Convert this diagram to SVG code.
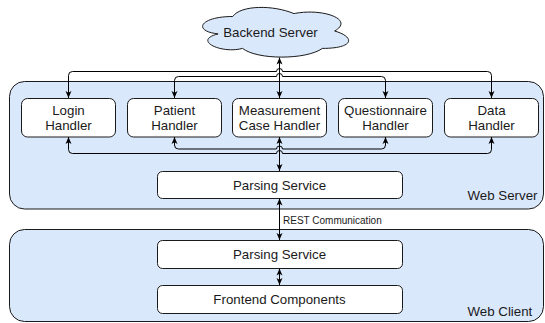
<svg xmlns="http://www.w3.org/2000/svg" width="545" height="323" viewBox="0 0 545 323">
  <style>
    .container { fill: #dae8fc; stroke: #1a1a1a; stroke-width: 1; }
    .box { fill: #ffffff; stroke: #1a1a1a; stroke-width: 1; }
    .cloud { fill: #dae8fc; stroke: #1a1a1a; stroke-width: 1; }
    .label { font-family: "Liberation Sans", Arial, sans-serif; font-size: 13.3px; fill: #1a1a1a; }
    .center { text-anchor: middle; }
    .small { font-family: "Liberation Sans", Arial, sans-serif; font-size: 10px; fill: #1a1a1a; }
    .edge { fill: none; stroke: #000000; stroke-width: 1; }
  </style>
  <defs>
    <marker id="arrow" viewBox="0 0 8 8" refX="8" refY="4" markerWidth="7" markerHeight="7" markerUnits="userSpaceOnUse" orient="auto-start-reverse">
      <path d="M0,0.6 L8,4 L0,7.4 L2,4 Z" fill="#000000"/>
    </marker>
  </defs>

  <!-- tier containers -->
  <g id="web-server">
    <rect class="container" x="9.5" y="81.5" width="534" height="127.5" rx="15" ry="15"/>
    <text class="label" x="467.5" y="200">Web Server</text>
  </g>
  <g id="web-client">
    <rect class="container" x="9.5" y="229.5" width="534" height="92" rx="15" ry="15"/>
    <text class="label" x="467.5" y="315.5">Web Client</text>
  </g>

  <!-- backend -->
  <g id="backend-server">
    <path class="cloud" d="M232.75,16.5 C200.15,16.5 192,31 218.08,33.9 C192,40.28 221.34,54.2 242.53,48.4 C257.2,60 306.1,60 322.4,48.4 C355,48.4 355,36.8 334.63,31 C355,19.4 322.4,7.8 293.88,13.6 C273.5,4.9 240.9,4.9 232.75,16.5 Z"/>
    <text class="label center" x="270.5" y="37">Backend Server</text>
  </g>

  <!-- server handlers -->
  <g id="login-handler">
    <rect class="box" x="21.5" y="98.5" width="94" height="38.5" rx="6" ry="6"/>
    <text class="label center" x="68.5" y="114.5">Login</text>
    <text class="label center" x="68.5" y="130">Handler</text>
  </g>
  <g id="patient-handler">
    <rect class="box" x="127.5" y="98.5" width="94" height="38.5" rx="6" ry="6"/>
    <text class="label center" x="174.5" y="114.5">Patient</text>
    <text class="label center" x="174.5" y="130">Handler</text>
  </g>
  <g id="measurement-case-handler">
    <rect class="box" x="232.5" y="98.5" width="94" height="38.5" rx="6" ry="6"/>
    <text class="label center" x="279.5" y="114.5">Measurement</text>
    <text class="label center" x="279.5" y="130">Case Handler</text>
  </g>
  <g id="questionnaire-handler">
    <rect class="box" x="338.5" y="98.5" width="94" height="38.5" rx="6" ry="6"/>
    <text class="label center" x="385.5" y="114.5">Questionnaire</text>
    <text class="label center" x="385.5" y="130">Handler</text>
  </g>
  <g id="data-handler">
    <rect class="box" x="444.5" y="98.5" width="94" height="38.5" rx="6" ry="6"/>
    <text class="label center" x="491.5" y="114.5">Data</text>
    <text class="label center" x="491.5" y="130">Handler</text>
  </g>

  <g id="server-parsing-service">
    <rect class="box" x="157.5" y="171.5" width="245" height="27" rx="5" ry="5"/>
    <text class="label center" x="279.5" y="189.5">Parsing Service</text>
  </g>

  <!-- client side -->
  <g id="client-parsing-service">
    <rect class="box" x="157.5" y="240.5" width="245" height="28" rx="5" ry="5"/>
    <text class="label center" x="279.5" y="259">Parsing Service</text>
  </g>
  <g id="frontend-components">
    <rect class="box" x="157.5" y="285.5" width="245" height="28" rx="5" ry="5"/>
    <text class="label center" x="279.5" y="304">Frontend Components</text>
  </g>

  <!-- connectors -->
  <g id="connectors">
    <!-- handlers to backend -->
    <path class="edge" marker-start="url(#arrow)" marker-end="url(#arrow)" d="M279.5,98 V57.5"/>
    <path class="edge" marker-start="url(#arrow)" d="M68.5,98 V75.5 Q68.5,71.5 72.5,71.5 H276.5 A3,3 0 0 1 282.5,71.5"/>
    <path class="edge" marker-start="url(#arrow)" d="M491.5,98 V75.5 Q491.5,71.5 487.5,71.5 H282.5"/>
    <path class="edge" marker-start="url(#arrow)" d="M174.5,98 V80.5 Q174.5,76.5 178.5,76.5 H276.5 A3,3 0 0 1 282.5,76.5"/>
    <path class="edge" marker-start="url(#arrow)" d="M385.5,98 V80.5 Q385.5,76.5 381.5,76.5 H282.5"/>

    <!-- handlers to parsing service -->
    <path class="edge" marker-start="url(#arrow)" marker-end="url(#arrow)" d="M279.5,137 V171"/>
    <path class="edge" marker-start="url(#arrow)" d="M68.5,137 V149.5 Q68.5,153.5 72.5,153.5 H276.5 A3,3 0 0 1 282.5,153.5"/>
    <path class="edge" marker-start="url(#arrow)" d="M491.5,137 V149.5 Q491.5,153.5 487.5,153.5 H282.5"/>
    <path class="edge" marker-start="url(#arrow)" d="M174.5,137 V145 Q174.5,149 178.5,149 H276.5 A3,3 0 0 1 282.5,149"/>
    <path class="edge" marker-start="url(#arrow)" d="M385.5,137 V145 Q385.5,149 381.5,149 H282.5"/>

    <!-- REST link -->
    <path class="edge" marker-start="url(#arrow)" marker-end="url(#arrow)" d="M279.5,198.5 V240"/>
    <text class="small" x="283" y="223.5">REST Communication</text>

    <!-- client internal -->
    <path class="edge" marker-start="url(#arrow)" marker-end="url(#arrow)" d="M279.5,268.5 V285"/>
  </g>
</svg>
